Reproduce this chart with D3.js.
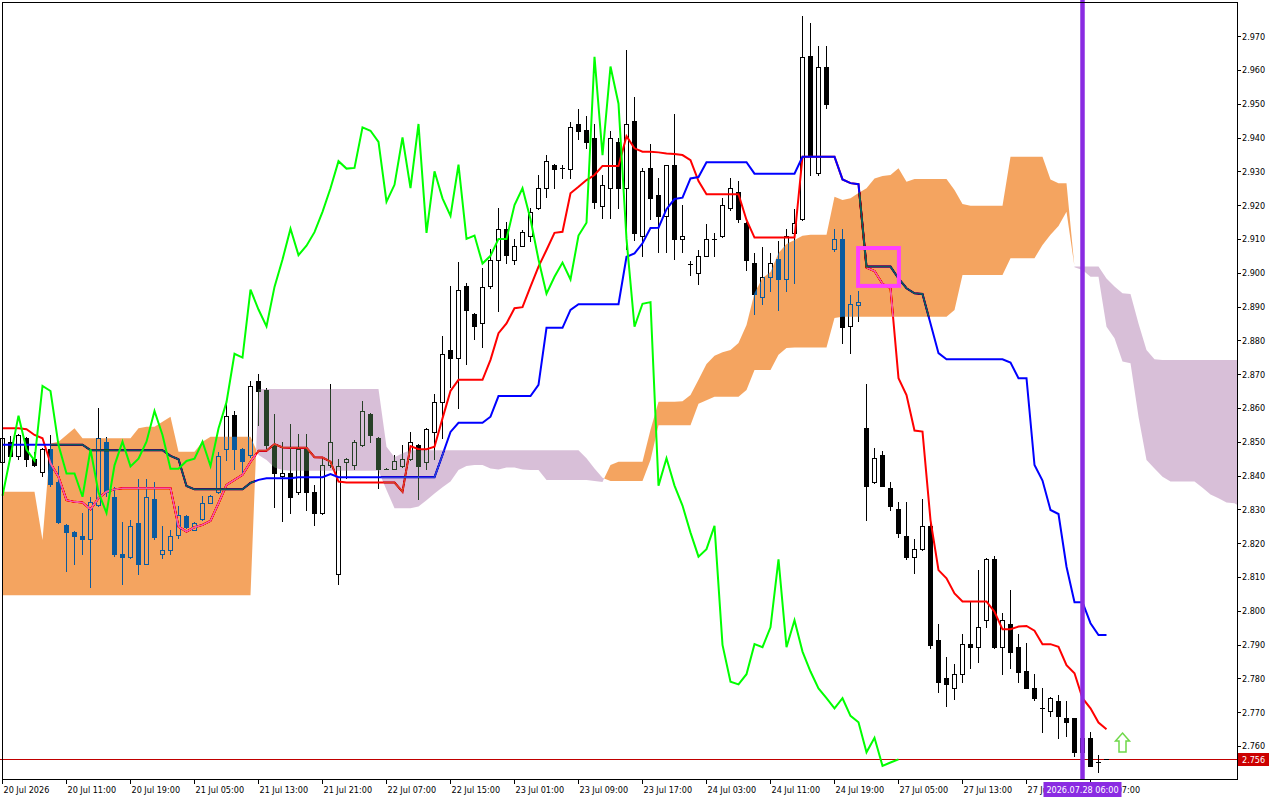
<!DOCTYPE html>
<html>
<head>
<meta charset="utf-8">
<script src="https://cdn.jsdelivr.net/npm/d3@7"></script>
<style>
html, body { margin: 0; padding: 0; background: #fff; overflow: hidden; }
svg { display: block; }
text { font-family: "DejaVu Sans Condensed", "DejaVu Sans", sans-serif; font-stretch: condensed; font-size: 9px; }
</style>
</head>
<body>
<div id="chart"></div>
<script>
// hourly candles, bar 0 = first visible bar
var opens = [
  2.8440, 2.8500, 2.8457, 2.8510, 2.8450, 2.8411, 2.8477, 2.8380, 2.8255, 2.8233,
  2.8222, 2.8211, 2.8312, 2.8500, 2.8336, 2.8167, 2.8158, 2.8260, 2.8139, 2.8329,
  2.8168, 2.8180, 2.8223, 2.8281, 2.8240, 2.8271, 2.8320, 2.8350, 2.8477, 2.8580,
  2.8477, 2.8460, 2.8680, 2.8652, 2.8490, 2.8398, 2.8406, 2.8350, 2.8477, 2.8352,
  2.8289, 2.8430, 2.8110, 2.8440, 2.8430, 2.8490, 2.8582, 2.8511, 2.8420, 2.8420,
  2.8427, 2.8450, 2.8490, 2.8440, 2.8530, 2.8617, 2.8770, 2.8749, 2.8960, 2.8878,
  2.8850, 2.8960, 2.9039, 2.9130, 2.9039, 2.9080, 2.9110, 2.9190, 2.9250, 2.9320,
  2.9310, 2.9308, 2.9440, 2.9422, 2.9400, 2.9198, 2.9250, 2.9387, 2.9250, 2.9450,
  2.9110, 2.9310, 2.9230, 2.9168, 2.9320, 2.9101, 2.9027, 2.8999, 2.9050, 2.9100,
  2.9110, 2.9190, 2.9240, 2.9148, 2.9030, 2.8929, 2.8988, 2.9040, 2.8980, 2.9118,
  2.9160, 2.9640, 2.9296, 2.9610, 2.9070, 2.9100, 2.8841, 2.8903, 2.8540, 2.8380,
  2.8461, 2.8362, 2.8300, 2.8221, 2.8160, 2.8182, 2.8251, 2.7913, 2.7800, 2.7770,
  2.7812, 2.7901, 2.7892, 2.7972, 2.8152, 2.7892, 2.7960, 2.7893, 2.7822, 2.7770,
  2.7711, 2.7703, 2.7733, 2.7682, 2.7682, 2.7581, 2.7622, 2.7551, 2.7560
];
var highs = [
  2.8520, 2.8518, 2.8522, 2.8514, 2.8470, 2.8480, 2.8520, 2.8428, 2.8257, 2.8235,
  2.8290, 2.8336, 2.8600, 2.8515, 2.8366, 2.8262, 2.8267, 2.8390, 2.8390, 2.8380,
  2.8252, 2.8240, 2.8310, 2.8283, 2.8262, 2.8340, 2.8342, 2.8470, 2.8612, 2.8590,
  2.8480, 2.8680, 2.8700, 2.8660, 2.8583, 2.8500, 2.8551, 2.8522, 2.8522, 2.8371,
  2.8448, 2.8670, 2.8449, 2.8453, 2.8505, 2.8620, 2.8584, 2.8513, 2.8421, 2.8460,
  2.8490, 2.8530, 2.8492, 2.8541, 2.8640, 2.8813, 2.8960, 2.9033, 2.8971, 2.8880,
  2.9015, 2.9070, 2.9190, 2.9150, 2.9100, 2.9125, 2.9190, 2.9290, 2.9347, 2.9322,
  2.9320, 2.9446, 2.9483, 2.9463, 2.9440, 2.9290, 2.9420, 2.9400, 2.9660, 2.9519,
  2.9310, 2.9380, 2.9280, 2.9320, 2.9470, 2.9200, 2.9035, 2.9066, 2.9145, 2.9118,
  2.9220, 2.9280, 2.9270, 2.9150, 2.9058, 2.9075, 2.9058, 2.9094, 2.9130, 2.9187,
  2.9760, 2.9740, 2.9670, 2.9670, 2.9130, 2.9130, 2.8935, 2.8945, 2.8671, 2.8480,
  2.8473, 2.8380, 2.8321, 2.8321, 2.8211, 2.8330, 2.8263, 2.7961, 2.7864, 2.7842,
  2.7931, 2.8025, 2.8120, 2.8155, 2.8162, 2.7994, 2.8061, 2.7931, 2.7904, 2.7813,
  2.7770, 2.7745, 2.7751, 2.7733, 2.7683, 2.7630, 2.7642, 2.7573, 2.7560
];
var lows = [
  2.8430, 2.8455, 2.8450, 2.8428, 2.8428, 2.8400, 2.8369, 2.8260, 2.8117, 2.8137,
  2.8169, 2.8070, 2.8310, 2.8340, 2.8162, 2.8080, 2.8156, 2.8110, 2.8137, 2.8212,
  2.8155, 2.8168, 2.8216, 2.8245, 2.8238, 2.8268, 2.8318, 2.8348, 2.8447, 2.8418,
  2.8410, 2.8455, 2.8550, 2.8480, 2.8308, 2.8266, 2.8289, 2.8345, 2.8298, 2.8254,
  2.8285, 2.8425, 2.8080, 2.8393, 2.8420, 2.8488, 2.8500, 2.8364, 2.8419, 2.8418,
  2.8425, 2.8445, 2.8330, 2.8420, 2.8450, 2.8510, 2.8662, 2.8600, 2.8731, 2.8805,
  2.8779, 2.8955, 2.8887, 2.9030, 2.9027, 2.9078, 2.9095, 2.9188, 2.9225, 2.9250,
  2.9280, 2.9280, 2.9395, 2.9370, 2.9191, 2.9163, 2.9163, 2.9190, 2.9069, 2.9096,
  2.9050, 2.9160, 2.9060, 2.9060, 2.9040, 2.9060, 2.8993, 2.8966, 2.9048, 2.9050,
  2.9105, 2.9185, 2.9150, 2.9009, 2.8879, 2.8906, 2.8945, 2.8890, 2.8945, 2.8970,
  2.9155, 2.9290, 2.9290, 2.9487, 2.9065, 2.8793, 2.8763, 2.8858, 2.8268, 2.8378,
  2.8368, 2.8298, 2.8219, 2.8152, 2.8111, 2.8180, 2.7890, 2.7760, 2.7719, 2.7739,
  2.7790, 2.7830, 2.7849, 2.7951, 2.7890, 2.7812, 2.7830, 2.7790, 2.7770, 2.7735,
  2.7640, 2.7689, 2.7622, 2.7630, 2.7571, 2.7575, 2.7541, 2.7522, 2.7560
];
var closes = [
  2.8510, 2.8457, 2.8520, 2.8450, 2.8430, 2.8477, 2.8376, 2.8262, 2.8233, 2.8220,
  2.8212, 2.8322, 2.8510, 2.8350, 2.8167, 2.8158, 2.8250, 2.8139, 2.8336, 2.8218,
  2.8180, 2.8220, 2.8282, 2.8248, 2.8260, 2.8320, 2.8340, 2.8457, 2.8577, 2.8477,
  2.8444, 2.8665, 2.8650, 2.8490, 2.8406, 2.8406, 2.8337, 2.8477, 2.8350, 2.8289,
  2.8430, 2.8500, 2.8427, 2.8450, 2.8500, 2.8591, 2.8520, 2.8420, 2.8420, 2.8443,
  2.8450, 2.8500, 2.8428, 2.8539, 2.8617, 2.8760, 2.8749, 2.8950, 2.8891, 2.8841,
  2.8958, 2.9039, 2.9130, 2.9052, 2.9080, 2.9120, 2.9180, 2.9250, 2.9330, 2.9308,
  2.9310, 2.9430, 2.9420, 2.9387, 2.9210, 2.9260, 2.9400, 2.9250, 2.9440, 2.9118,
  2.9300, 2.9220, 2.9168, 2.9320, 2.9100, 2.9110, 2.9027, 2.9050, 2.9100, 2.9100,
  2.9200, 2.9250, 2.9158, 2.9039, 2.8938, 2.8988, 2.9030, 2.8980, 2.9110, 2.9148,
  2.9639, 2.9348, 2.9610, 2.9500, 2.9100, 2.8840, 2.8908, 2.8913, 2.8370, 2.8451,
  2.8370, 2.8311, 2.8231, 2.8160, 2.8182, 2.8251, 2.7899, 2.7790, 2.7782, 2.7812,
  2.7901, 2.7892, 2.7951, 2.8152, 2.7892, 2.7972, 2.7879, 2.7820, 2.7770, 2.7741,
  2.7711, 2.7741, 2.7689, 2.7670, 2.7581, 2.7624, 2.7541, 2.7551, 2.7560
];

// Ichimoku lines, one value per bar
var tenkan = [
  2.8540, 2.8540, 2.8540, 2.8537, 2.8520, 2.8510, 2.8436, 2.8396, 2.8327, 2.8322,
  2.8320, 2.8300, 2.8333, 2.8352, 2.8359, 2.8362, 2.8362, 2.8362, 2.8362, 2.8362,
  2.8362, 2.8362, 2.8249, 2.8234, 2.8247, 2.8254, 2.8266, 2.8318, 2.8372, 2.8387,
  2.8402, 2.8440, 2.8473, 2.8473, 2.8493, 2.8483, 2.8482, 2.8482, 2.8482, 2.8454,
  2.8453, 2.8441, 2.8382, 2.8379, 2.8379, 2.8379, 2.8379, 2.8379, 2.8379, 2.8379,
  2.8352, 2.8487, 2.8478, 2.8478, 2.8485, 2.8569, 2.8650, 2.8683, 2.8683, 2.8683,
  2.8683, 2.8742, 2.8821, 2.8850, 2.8895, 2.8898, 2.8959, 2.9018, 2.9067, 2.9118,
  2.9121, 2.9235, 2.9254, 2.9274, 2.9289, 2.9316, 2.9316, 2.9316, 2.9404, 2.9368,
  2.9358, 2.9358, 2.9356, 2.9353, 2.9351, 2.9348, 2.9333, 2.9271, 2.9232, 2.9232,
  2.9232, 2.9232, 2.9232, 2.9156, 2.9104, 2.9104, 2.9104, 2.9104, 2.9104, 2.9104,
  2.9343, 2.9343, 2.9343, 2.9343, 2.9343, 2.9276, 2.9265, 2.9262, 2.9015, 2.9005,
  2.8967, 2.8954, 2.8688, 2.8638, 2.8533, 2.8530, 2.8268, 2.8120, 2.8096, 2.8051,
  2.8027, 2.8027, 2.8027, 2.8027, 2.7997, 2.7945, 2.7945, 2.7953, 2.7955, 2.7941,
  2.7901, 2.7901, 2.7893, 2.7839, 2.7815, 2.7741, 2.7711, 2.7669, 2.7649
];
var kijun = [
  2.8491, 2.8491, 2.8491, 2.8491, 2.8491, 2.8491, 2.8491, 2.8491, 2.8491, 2.8491,
  2.8491, 2.8475, 2.8475, 2.8475, 2.8475, 2.8475, 2.8475, 2.8475, 2.8475, 2.8475,
  2.8475, 2.8458, 2.8448, 2.8369, 2.8359, 2.8359, 2.8359, 2.8359, 2.8359, 2.8359,
  2.8359, 2.8378, 2.8387, 2.8392, 2.8392, 2.8392, 2.8392, 2.8395, 2.8395, 2.8395,
  2.8395, 2.8404, 2.8395, 2.8395, 2.8395, 2.8395, 2.8395, 2.8395, 2.8395, 2.8395,
  2.8395, 2.8395, 2.8395, 2.8395, 2.8395, 2.8461, 2.8529, 2.8556, 2.8556, 2.8556,
  2.8556, 2.8574, 2.8635, 2.8635, 2.8635, 2.8635, 2.8635, 2.8668, 2.8837, 2.8837,
  2.8837, 2.8890, 2.8907, 2.8907, 2.8907, 2.8907, 2.8907, 2.8907, 2.9047, 2.9057,
  2.9087, 2.9132, 2.9133, 2.9188, 2.9218, 2.9222, 2.9279, 2.9283, 2.9327, 2.9327,
  2.9327, 2.9327, 2.9327, 2.9327, 2.9293, 2.9293, 2.9293, 2.9293, 2.9293, 2.9293,
  2.9343, 2.9343, 2.9343, 2.9343, 2.9343, 2.9276, 2.9265, 2.9262, 2.9018, 2.9018,
  2.9018, 2.9018, 2.8983, 2.8954, 2.8939, 2.8937, 2.8850, 2.8762, 2.8744, 2.8744,
  2.8744, 2.8744, 2.8744, 2.8744, 2.8744, 2.8744, 2.8734, 2.8688, 2.8688, 2.8431,
  2.8385, 2.8298, 2.8286, 2.8130, 2.8025, 2.8025, 2.7963, 2.7928, 2.7928
];
// cloud edges (already shifted forward), bars 0..155
var spanA = [
  2.8352, 2.8352, 2.8352, 2.8352, 2.8352, 2.8209, 2.8495, 2.8500, 2.8520, 2.8540,
  2.8510, 2.8510, 2.8510, 2.8510, 2.8510, 2.8510, 2.8510, 2.8540, 2.8544, 2.8544,
  2.8559, 2.8574, 2.8470, 2.8470, 2.8470, 2.8500, 2.8515, 2.8515, 2.8515, 2.8515,
  2.8515, 2.8515, 2.8461, 2.8446, 2.8424, 2.8416, 2.8414, 2.8414, 2.8414, 2.8414,
  2.8414, 2.8414, 2.8414, 2.8414, 2.8414, 2.8414, 2.8414, 2.8414, 2.8357, 2.8303,
  2.8303, 2.8303, 2.8308, 2.8327, 2.8347, 2.8365, 2.8382, 2.8416, 2.8428, 2.8431,
  2.8431, 2.8421, 2.8418, 2.8424, 2.8424, 2.8418, 2.8416, 2.8416, 2.8387, 2.8387,
  2.8387, 2.8387, 2.8387, 2.8387, 2.8384, 2.8381, 2.8431, 2.8441, 2.8441, 2.8441,
  2.8441, 2.8535, 2.8618, 2.8618, 2.8618, 2.8620, 2.8638, 2.8683, 2.8730, 2.8754,
  2.8765, 2.8771, 2.8792, 2.8845, 2.8940, 2.8984, 2.9002, 2.9058, 2.9085, 2.9097,
  2.9109, 2.9112, 2.9112, 2.9112, 2.9225, 2.9215, 2.9220, 2.9236, 2.9250, 2.9279,
  2.9286, 2.9289, 2.9309, 2.9269, 2.9277, 2.9277, 2.9277, 2.9277, 2.9277, 2.9245,
  2.9203, 2.9198, 2.9198, 2.9198, 2.9198, 2.9198, 2.9343, 2.9343, 2.9343, 2.9343,
  2.9343, 2.9276, 2.9265, 2.9265, 2.9016, 2.9008, 2.8988, 2.8988, 2.8840, 2.8806,
  2.8737, 2.8732, 2.8574, 2.8446, 2.8421, 2.8396, 2.8382, 2.8382, 2.8382, 2.8382,
  2.8364, 2.8344, 2.8333, 2.8320, 2.8318, 2.8304
];
var spanB = [
  2.8046, 2.8046, 2.8046, 2.8046, 2.8046, 2.8046, 2.8046, 2.8046, 2.8046, 2.8046,
  2.8046, 2.8046, 2.8046, 2.8046, 2.8046, 2.8046, 2.8046, 2.8046, 2.8046, 2.8046,
  2.8046, 2.8046, 2.8046, 2.8046, 2.8046, 2.8046, 2.8046, 2.8046, 2.8046, 2.8046,
  2.8046, 2.8046, 2.8656, 2.8656, 2.8656, 2.8656, 2.8656, 2.8656, 2.8656, 2.8656,
  2.8656, 2.8656, 2.8656, 2.8656, 2.8656, 2.8656, 2.8656, 2.8656, 2.8485, 2.8454,
  2.8466, 2.8475, 2.8475, 2.8475, 2.8475, 2.8475, 2.8475, 2.8475, 2.8475, 2.8475,
  2.8475, 2.8475, 2.8475, 2.8475, 2.8475, 2.8475, 2.8475, 2.8475, 2.8475, 2.8475,
  2.8475, 2.8475, 2.8475, 2.8451, 2.8421, 2.8393, 2.8384, 2.8384, 2.8384, 2.8384,
  2.8384, 2.8446, 2.8549, 2.8549, 2.8549, 2.8549, 2.8549, 2.8612, 2.8623, 2.8633,
  2.8633, 2.8633, 2.8633, 2.8653, 2.8712, 2.8712, 2.8712, 2.8757, 2.8777, 2.8779,
  2.8779, 2.8779, 2.8779, 2.8779, 2.8866, 2.8870, 2.8870, 2.8870, 2.8870, 2.8870,
  2.8870, 2.8870, 2.8870, 2.8870, 2.8870, 2.8870, 2.8870, 2.8870, 2.8870, 2.8890,
  2.8993, 2.8993, 2.8993, 2.8993, 2.8993, 2.8993, 2.9043, 2.9043, 2.9043, 2.9043,
  2.9082, 2.9112, 2.9138, 2.9180, 2.9018, 2.9018, 2.9018, 2.9018, 2.8983, 2.8959,
  2.8939, 2.8937, 2.8850, 2.8771, 2.8744, 2.8742, 2.8742, 2.8742, 2.8742, 2.8742,
  2.8742, 2.8742, 2.8742, 2.8742, 2.8742, 2.8742
];
var chikouShift = 26;   // chikou = close drawn 26 bars back

var priceTicks = [2.760, 2.770, 2.780, 2.790, 2.800, 2.810, 2.820, 2.830, 2.840, 2.850, 2.860,
                  2.870, 2.880, 2.890, 2.900, 2.910, 2.920, 2.930, 2.940, 2.950, 2.960, 2.970];
var timeTickBars = [0, 8, 16, 24, 32, 40, 48, 56, 64, 72, 80, 88, 96, 104, 112, 120, 128, 136];
var timeTickLabels = ["20 Jul 2026", "20 Jul 11:00", "20 Jul 19:00", "21 Jul 05:00", "21 Jul 13:00",
                      "21 Jul 21:00", "22 Jul 07:00", "22 Jul 15:00", "23 Jul 01:00", "23 Jul 09:00",
                      "23 Jul 17:00", "24 Jul 03:00", "24 Jul 11:00", "24 Jul 19:00", "27 Jul 05:00",
                      "27 Jul 13:00", "27 Jul 21:00", "28 Jul 07:00"];
var lastPrice = 2.756;
var markerBar = 135, markerLabel = "2026.07.28 06:00";
var boxBars = [106.95, 112.05], boxPrices = [2.9073, 2.8961];
var arrowBar = 140, arrowPrice = 2.7638;

var W = 1280, H = 800;
var plotRight = 1237, plotBottom = 779;

var x = d3.scaleLinear().domain([0, 1]).range([2.5, 10.5]);
var y = d3.scaleLinear().domain([2.75, 2.97]).range([779.7, 36.1]);

var svg = d3.select("#chart").append("svg")
    .attr("width", W)
    .attr("height", H);

svg.append("rect").attr("width", W).attr("height", H).attr("fill", "white");

svg.append("clipPath").attr("id", "plot-clip")
    .append("rect")
    .attr("x", 0).attr("y", 0)
    .attr("width", plotRight).attr("height", plotBottom);

var plot = svg.append("g").attr("clip-path", "url(#plot-clip)");
// blending needs an opaque backdrop inside the clipped group
plot.append("rect").attr("width", plotRight).attr("height", plotBottom).attr("fill", "white");

// bid line
plot.append("line")
    .attr("x1", 0).attr("x2", plotRight)
    .attr("y1", Math.round(y(lastPrice)) + 0.5).attr("y2", Math.round(y(lastPrice)) + 0.5)
    .attr("stroke", "#c00000")
    .attr("stroke-width", 1)
    .attr("shape-rendering", "crispEdges");

// candles
var bars = d3.range(opens.length);
var candle = plot.append("g").attr("shape-rendering", "crispEdges")
    .selectAll("g")
    .data(bars)
    .enter()
    .append("g");

candle.append("line")
    .attr("x1", function (i) { return x(i); })
    .attr("x2", function (i) { return x(i); })
    .attr("y1", function (i) { return Math.round(y(highs[i])); })
    .attr("y2", function (i) { return Math.round(y(lows[i])) + 1; })
    .attr("stroke", "black");

candle.each(function (i) {
    var g = d3.select(this);
    var top = Math.round(y(Math.max(opens[i], closes[i])));
    var bot = Math.round(y(Math.min(opens[i], closes[i])));
    if (bot - top < 1) {
        g.append("line")
            .attr("x1", x(i) - 2.5).attr("x2", x(i) + 2.5)
            .attr("y1", top + 0.5).attr("y2", top + 0.5)
            .attr("stroke", "black");
    } else {
        g.append("rect")
            .attr("x", x(i) - 2)
            .attr("y", top + 0.5)
            .attr("width", 4)
            .attr("height", bot - top)
            .attr("fill", closes[i] > opens[i] ? "white" : "black")
            .attr("stroke", "black");
    }
});

var priceLine = d3.line()
    .x(function (d, i) { return x(i); })
    .y(function (d) { return y(d); });

plot.append("path")
    .attr("d", priceLine(tenkan))
    .attr("fill", "none")
    .attr("stroke", "#ff0000")
    .attr("stroke-width", 2);

plot.append("path")
    .attr("d", priceLine(kijun))
    .attr("fill", "none")
    .attr("stroke", "#0000ff")
    .attr("stroke-width", 2);

// cloud: split into runs where spanA is above / below spanB
var pts = [];
for (var i = 0; i < spanA.length; i++) {
    pts.push({ i: i, a: spanA[i], b: spanB[i] });
    if (i < spanA.length - 1) {
        var d0 = spanA[i] - spanB[i], d1 = spanA[i + 1] - spanB[i + 1];
        if (d0 * d1 < 0) {
            var t = d0 / (d0 - d1);
            var v = spanA[i] + t * (spanA[i + 1] - spanA[i]);
            pts.push({ i: i + t, a: v, b: v });
        }
    }
}
var runs = [];
var cur = null;
pts.forEach(function (p) {
    var s = p.a > p.b ? 1 : (p.a < p.b ? -1 : 0);
    if (!cur) { cur = { sign: s, pts: [p] }; return; }
    cur.pts.push(p);
    if (s === 0) {
        runs.push(cur);
        cur = { sign: 0, pts: [p] };
    } else if (cur.sign === 0) {
        cur.sign = s;
    }
});
runs.push(cur);

var cloudArea = d3.area()
    .x(function (p) { return x(p.i); })
    .y0(function (p) { return y(p.b); })
    .y1(function (p) { return y(p.a); });

var upPath = runs.filter(function (r) { return r.sign > 0; }).map(function (r) { return cloudArea(r.pts); }).join("");
var downPath = runs.filter(function (r) { return r.sign < 0; }).map(function (r) { return cloudArea(r.pts); }).join("");

// drawn as XOR over whatever is under it (inverted sandybrown / thistle with difference)
plot.append("path")
    .attr("d", upPath)
    .attr("fill", "#0b5b9f")
    .style("mix-blend-mode", "difference");
plot.append("path")
    .attr("d", downPath)
    .attr("fill", "#274027")
    .style("mix-blend-mode", "difference");

// chikou span
plot.append("path")
    .attr("d", d3.line()
        .x(function (d, i) { return x(i); })
        .y(function (d) { return y(d); })(closes.slice(chikouShift)))
    .attr("fill", "none")
    .attr("stroke", "#00ff00")
    .attr("stroke-width", 2);

// vertical line object
plot.append("line")
    .attr("x1", x(markerBar)).attr("x2", x(markerBar))
    .attr("y1", 0).attr("y2", plotBottom)
    .attr("stroke", "#8a2be2")
    .attr("stroke-width", 4.5);

// rectangle object
plot.append("rect")
    .attr("x", x(boxBars[0]))
    .attr("y", y(boxPrices[0]))
    .attr("width", x(boxBars[1]) - x(boxBars[0]))
    .attr("height", y(boxPrices[1]) - y(boxPrices[0]))
    .attr("fill", "none")
    .attr("stroke", "#ff40ff")
    .attr("stroke-width", 4);

// up arrow object
var ax = x(arrowBar), ay = y(arrowPrice);
plot.append("path")
    .attr("d", "M" + ax + "," + ay +
        "L" + (ax + 7) + "," + (ay + 8) +
        "L" + (ax + 3.5) + "," + (ay + 8) +
        "L" + (ax + 3.5) + "," + (ay + 19) +
        "L" + (ax - 3.5) + "," + (ay + 19) +
        "L" + (ax - 3.5) + "," + (ay + 8) +
        "L" + (ax - 7) + "," + (ay + 8) + "Z")
    .attr("fill", "white")
    .attr("stroke", "#6fd84a")
    .attr("stroke-width", 1.5);

// frame
var frame = svg.append("g").attr("shape-rendering", "crispEdges");
frame.append("rect")
    .attr("x", 2.5).attr("y", 2.5)
    .attr("width", plotRight - 2)
    .attr("height", plotBottom - 2)
    .attr("fill", "none")
    .attr("stroke", "black");

// price axis
var pAxis = svg.append("g");
pAxis.selectAll("line")
    .data(priceTicks)
    .enter()
    .append("line")
    .attr("x1", plotRight).attr("x2", plotRight + 4)
    .attr("y1", function (d) { return Math.round(y(d)) + 0.5; })
    .attr("y2", function (d) { return Math.round(y(d)) + 0.5; })
    .attr("stroke", "black")
    .attr("shape-rendering", "crispEdges");
pAxis.selectAll("text")
    .data(priceTicks)
    .enter()
    .append("text")
    .attr("x", plotRight + 5)
    .attr("y", function (d) { return y(d) + 3.5; })
    .attr("fill", "black")
    .text(function (d) { return d.toFixed(3); });

pAxis.append("rect")
    .attr("x", plotRight + 1).attr("y", Math.round(y(lastPrice)) - 6)
    .attr("width", 31).attr("height", 13)
    .attr("fill", "#cc0000");
pAxis.append("text")
    .attr("x", plotRight + 5)
    .attr("y", y(lastPrice) + 3.5)
    .attr("fill", "white")
    .text(lastPrice.toFixed(3));

// time axis
var tAxis = svg.append("g");
tAxis.selectAll("line")
    .data(timeTickBars)
    .enter()
    .append("line")
    .attr("x1", function (d) { return x(d); })
    .attr("x2", function (d) { return x(d); })
    .attr("y1", plotBottom).attr("y2", plotBottom + 5)
    .attr("stroke", "black")
    .attr("shape-rendering", "crispEdges");
tAxis.selectAll("text")
    .data(timeTickBars)
    .enter()
    .append("text")
    .attr("x", function (d) { return x(d) + 1; })
    .attr("y", plotBottom + 14)
    .attr("fill", "black")
    .text(function (d, i) { return timeTickLabels[i]; });

var mw = 78;
tAxis.append("rect")
    .attr("x", x(markerBar) - mw / 2).attr("y", plotBottom + 3)
    .attr("width", mw).attr("height", 15)
    .attr("fill", "#8a2be2");
tAxis.append("text")
    .attr("x", x(markerBar))
    .attr("y", plotBottom + 14)
    .attr("text-anchor", "middle")
    .attr("fill", "white")
    .text(markerLabel);
</script>
</body>
</html>
